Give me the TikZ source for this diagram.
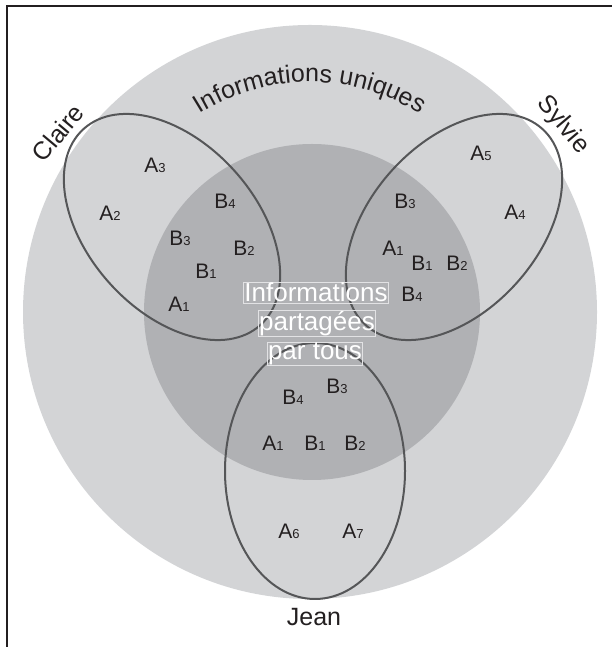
\documentclass[tikz,border=0pt]{standalone}
\usepackage{fontspec}
\setmainfont{Liberation Sans}
\usetikzlibrary{positioning, decorations.text}
\definecolor{UniqueGray}{RGB}{211,212,214}
\definecolor{SharedGray}{RGB}{176,177,180}
\definecolor{RingLine}{RGB}{85,86,88}
\definecolor{InkBlack}{RGB}{35,31,32}
\definecolor{BoxLine}{RGB}{226,226,228}

\newcommand{\elt}[2]{#1\raisebox{-0.3pt}{\fontsize{13}{13}\selectfont #2}}

\tikzset{
  item/.style={text=InkBlack, font=\fontsize{21}{21}\selectfont, inner sep=0pt},
  person/.style={text=InkBlack, font=\fontsize{25}{25}\selectfont, inner sep=0pt},
  shared/.style={text=white, draw=BoxLine, line width=0.6pt, inner sep=0.8pt, font=\fontsize{26}{26}\selectfont, anchor=base},
  group/.style={draw=RingLine, line width=2pt},
}

\begin{document}
\begin{tikzpicture}[x=1pt,y=1pt]
\useasboundingbox (0,0) rectangle (612,647);
\draw[line width=1.2pt, InkBlack] (7,0) -- (7,641) -- (612,641);

% the two zones
\fill[UniqueGray] (310,335) circle[radius=287];
\fill[SharedGray] (312,335) circle[radius=168];

% the three people
\draw[group, rotate around={-48:(172,420)}] (172,420) ellipse[x radius=132, y radius=84];
\draw[group, rotate around={48:(454,420)}] (454,420) ellipse[x radius=132, y radius=84];
\draw[group] (315,176) ellipse[x radius=90, y radius=128];

\path[decorate, decoration={text along path, text align=center,
  text={|\fontsize{25}{25}\selectfont\color{InkBlack}|Informations uniques}}]
  (310,359) ++(124:206) arc[start angle=124, end angle=56, radius=206];

\node[person, rotate=50] (claire) at (58,514) {Claire};
\node[person, rotate=-50] (sylvie) at (563,522) {Sylvie};
\node[person] (jean) at (314,30) {Jean};

\node[shared] (sh1) at (316,345) {Informations};
\node[shared] (sh2) at (317,316.5) {partagées};
\node[shared] (sh3) at (315,287.5) {par tous};

% Claire
\node[item] (cA3) at (155,482) {\elt{A}{3}};
\node[item] (cA2) at (110,434) {\elt{A}{2}};
\node[item] (cB4) at (225,446) {\elt{B}{4}};
\node[item] (cB3) at (180,409) {\elt{B}{3}};
\node[item] (cB2) at (244,399) {\elt{B}{2}};
\node[item] (cB1) at (206,376) {\elt{B}{1}};
\node[item] (cA1) at (179,343) {\elt{A}{1}};

% Sylvie
\node[item] (sA5) at (481,494) {\elt{A}{5}};
\node[item] (sA4) at (515,435) {\elt{A}{4}};
\node[item] (sB3) at (405,446) {\elt{B}{3}};
\node[item] (sA1) at (393,399) {\elt{A}{1}};
\node[item] (sB1) at (422,384) {\elt{B}{1}};
\node[item] (sB2) at (457,384) {\elt{B}{2}};
\node[item] (sB4) at (412,353) {\elt{B}{4}};

% Jean
\node[item] (jB4) at (293,250) {\elt{B}{4}};
\node[item] (jB3) at (337,261) {\elt{B}{3}};
\node[item] (jA1) at (273,204) {\elt{A}{1}};
\node[item] (jB1) at (315,204) {\elt{B}{1}};
\node[item] (jB2) at (355,204) {\elt{B}{2}};
\node[item] (jA6) at (289,116) {\elt{A}{6}};
\node[item] (jA7) at (353,116) {\elt{A}{7}};
\end{tikzpicture}
\end{document}
